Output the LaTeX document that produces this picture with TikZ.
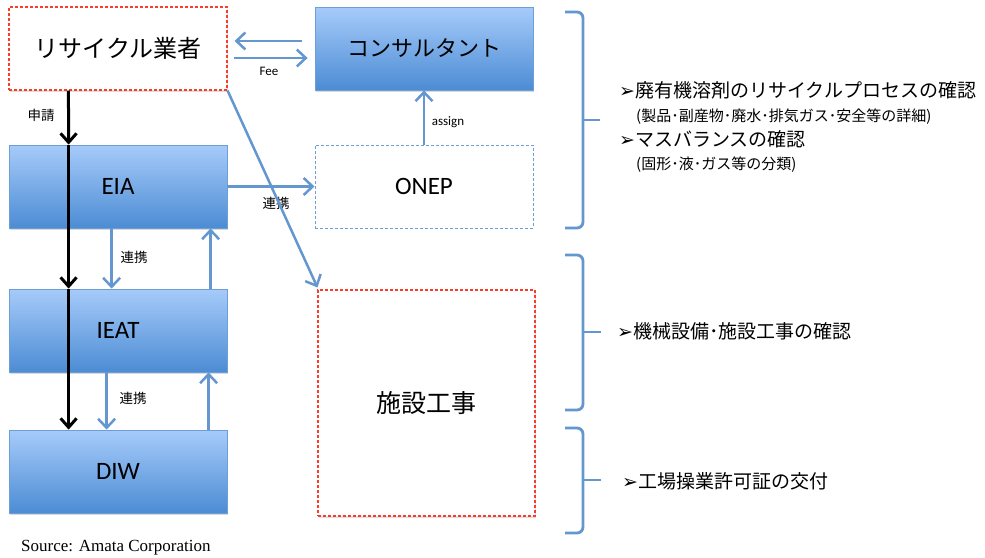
\documentclass[tikz,border=0pt]{standalone}
\usepackage{fontspec}
\setmainfont{Liberation Serif}
\newfontfamily\jp{Noto Sans CJK JP}
\newfontfamily\lat{Carlito}
\newfontfamily\dv{DejaVu Sans}
\usetikzlibrary{arrows.meta,shadows,calc}
\definecolor{ablue}{RGB}{100,150,208}
\definecolor{gtop}{RGB}{166,203,250}
\definecolor{gbot}{RGB}{76,140,212}
\definecolor{bord}{RGB}{110,158,215}
\definecolor{dred}{RGB}{250,60,40}
\newcommand{\bul}{{\dv\fontsize{19}{20}\selectfont ➢}}
\begin{document}
\begin{tikzpicture}[x=1pt,y=-1pt,
  bluebox/.style={minimum width=218pt,minimum height=83pt,inner sep=0pt,draw=bord,line width=0.8pt,
    top color=gtop,bottom color=gbot,drop shadow={opacity=0.3,shadow xshift=1pt,shadow yshift=-2pt}},
  redbox/.style={inner sep=0pt,draw=dred,line width=1.1pt,dash pattern=on 3pt off 2pt,fill=white,
    drop shadow={opacity=0.25,shadow xshift=1pt,shadow yshift=-2pt}},
  dashbox/.style={minimum width=218pt,minimum height=83pt,inner sep=0pt,draw=bord,line width=1pt,dash pattern=on 3pt off 2pt,fill=white},
  barrow/.style={draw=ablue,line width=2.5pt,-{Straight Barb[length=9pt,width=17pt]}},
  karrow/.style={draw=black,line width=3pt,-{Straight Barb[length=9pt,width=16pt]}},
  brace/.style={draw=ablue,line width=2.8pt,rounded corners=6pt},
  lab/.style={font=\jp\fontsize{13.5}{15}\selectfont,inner sep=0pt},
  latlab/.style={font=\lat\fontsize{13}{14}\selectfont,inner sep=0pt},
  big/.style={font=\jp\fontsize{19}{22}\selectfont,anchor=west,inner sep=0pt},
  small/.style={font=\jp\fontsize{15}{18}\selectfont,anchor=west,inner sep=0pt}
]
\useasboundingbox (0,0) rectangle (985,557);

% boxes
\node[redbox,minimum width=218pt,minimum height=83pt,font=\jp\fontsize{24}{28}\selectfont] (rec) at (118,48.5) {リサイクル業者};
\node[bluebox,font=\jp\fontsize{22}{26}\selectfont] (cons) at (424,48.5) {コンサルタント};
\node[dashbox,font=\lat\fontsize{25}{30}\selectfont] (onep) at (424,186.5) {ONEP};
\node[bluebox,font=\lat\fontsize{25}{30}\selectfont] (eia) at (118,186.5) {EIA};
\node[bluebox,font=\lat\fontsize{25}{30}\selectfont] (ieat) at (118,330.5) {IEAT};
\node[bluebox,font=\lat\fontsize{25}{30}\selectfont] (diw) at (118,471.5) {DIW};
\node[redbox,minimum width=217pt,minimum height=226pt,font=\jp\fontsize{25}{30}\selectfont] (shis) at (426.5,403) {施設工事};

% consultant <-> recycler
\draw[barrow] ([shift={(-13,-7.5)}]cons.west) -- ([shift={(7,-7.5)}]rec.east);
\draw[barrow] ([shift={(6,9.5)}]rec.east) -- ([shift={(-7,9.5)}]cons.west);
\node[latlab] (fee) at (269,71) {Fee};

% application (black)
\draw[karrow] ([xshift=60pt]rec.south west) -- ([xshift=60pt]eia.north west);
\draw[karrow] ([xshift=60pt]eia.north west) -- ([xshift=60pt]ieat.north west);
\draw[karrow] ([xshift=60pt]ieat.north west) -- ([xshift=60pt]diw.north west);
\node[lab] (shinsei) at (41,115) {申請};

% EIA <-> IEAT
\draw[barrow] ([xshift=103pt]eia.south west) -- ([xshift=103pt]ieat.north west);
\draw[barrow] ([xshift=202pt]ieat.north west) -- ([xshift=202pt]eia.south west);
\node[lab] (r1) at (134,257) {連携};
% IEAT <-> DIW
\draw[barrow] ([xshift=98pt]ieat.south west) -- ([xshift=98pt]diw.north west);
\draw[barrow] ([xshift=200pt]diw.north west) -- ([xshift=200pt]ieat.south west);
\node[lab] (r2) at (133,398) {連携};
% EIA -> ONEP
\draw[barrow] (eia.east) -- (onep.west);
\node[lab] (r3) at (276,203) {連携};
% ONEP -> consultant
\draw[barrow] (onep.north) -- (cons.south);
\node[latlab] (assign) at (448,122) {assign};
% recycler -> construction
\draw[barrow] (rec.south east) -- ([yshift=2pt]shis.north west);

% braces
\draw[brace] (565,12) -| (583,228) -- (565,228);
\draw[draw=ablue,line width=2.8pt] (583,120) -- (600,120);
\draw[brace] (565,255) -| (583,410) -- (565,410);
\draw[draw=ablue,line width=2.8pt] (583,332) -- (601,332);
\draw[brace] (565,428) -| (583,533) -- (565,533);
\draw[draw=ablue,line width=2.8pt] (583,480) -- (601,480);

% right texts
\node[big] (t1) at (619,90) {\bul 廃有機溶剤のリサイクルプロセスの確認};
\node[small] (t1s) at (636,117) {(製品･副産物･廃水･排気ガス･安全等の詳細)};
\node[big] (t2) at (619,139) {\bul マスバランスの確認};
\node[small] (t2s) at (636,165) {(固形･液･ガス等の分類)};
\node[big] (t3) at (617,331) {\bul 機械設備･施設工事の確認};
\node[big] (t4) at (622,481) {\bul 工場操業許可証の交付};

\node[anchor=west,inner sep=0pt,font=\fontsize{17}{20}\selectfont] (src) at (21,548) {Source: Amata Corporation};
\end{tikzpicture}
\end{document}
